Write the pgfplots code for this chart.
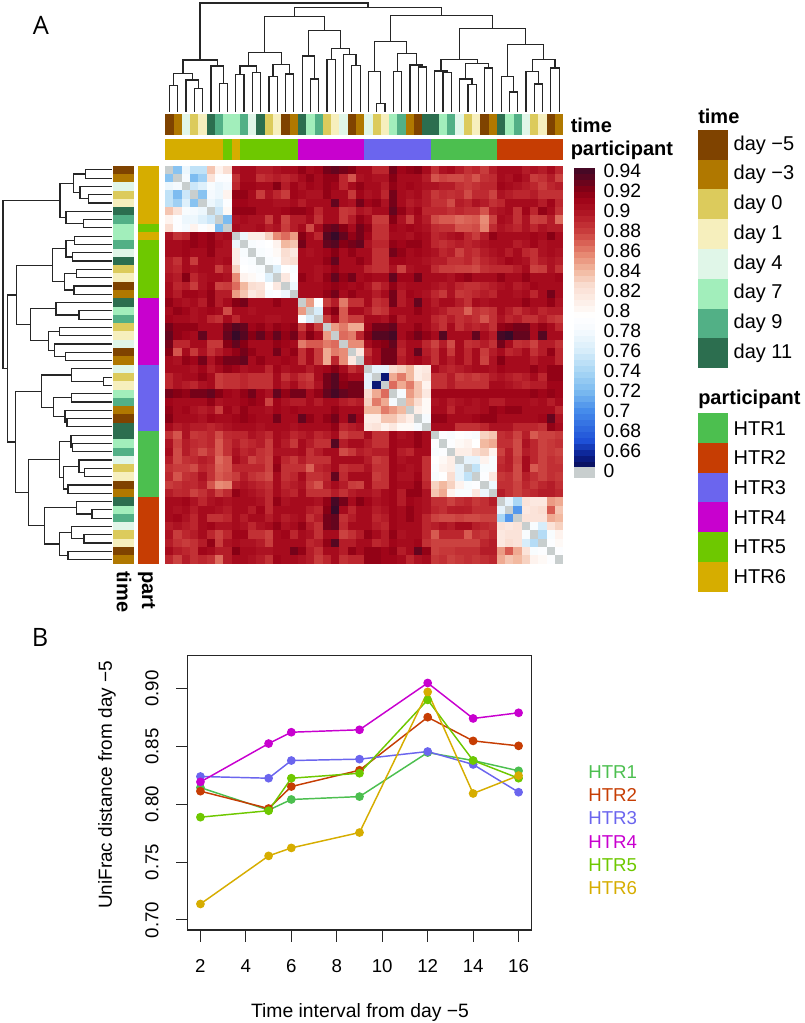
\documentclass[border=0pt]{standalone}
\usepackage{fontspec}
\setmainfont{Liberation Sans}
\newfontfamily\panelfont{Open Sans}
\usepackage{pgfplots}
\usepackage{pgfplotstable}
\pgfplotsset{compat=1.18}

% pixel of the reference -> picture coordinate
\newcommand\pxX[1]{#1*0.75pt}
\newcommand\pxY[1]{-#1*0.75pt}
\newcommand\fsz[1]{\fontsize{#1}{#1}\selectfont}

% colour cells used as scatter marks
\pgfdeclareplotmark{hcell}{\pgfpathrectangle{\pgfpoint{-3.2pt}{-3.2pt}}{\pgfpoint{6.4pt}{6.4pt}}\pgfusepathqfill}
\pgfdeclareplotmark{tcell}{\pgfpathrectangle{\pgfpoint{-3.14pt}{-7.78pt}}{\pgfpoint{6.28pt}{15.56pt}}\pgfusepathqfill}
\pgfdeclareplotmark{lcell}{\pgfpathrectangle{\pgfpoint{-7.88pt}{-3.14pt}}{\pgfpoint{15.76pt}{6.28pt}}\pgfusepathqfill}
\pgfdeclareplotmark{swatch}{\pgfpathrectangle{\pgfpoint{-11.2pt}{-11.25pt}}{\pgfpoint{22.4pt}{22.5pt}}\pgfusepathqfill}
\pgfdeclareplotmark{keycell}{\pgfpathrectangle{\pgfpoint{-7.76pt}{-2.4pt}}{\pgfpoint{15.52pt}{4.8pt}}\pgfusepathqfill}

\definecolor{keygrey}{RGB}{200,206,206}
\definecolor{htrA}{RGB}{76,191,79}
\definecolor{htrB}{RGB}{198,61,3}
\definecolor{htrC}{RGB}{107,101,238}
\definecolor{htrD}{RGB}{200,0,207}
\definecolor{htrE}{RGB}{110,200,0}
\definecolor{htrF}{RGB}{214,173,0}

\pgfplotsset{
  colormap={heat}{
    rgb255(630pt)=(200,206,206) rgb255(643.9pt)=(200,206,206)
    rgb255(644pt)=(10,15,90) rgb255(655pt)=(10,30,140) rgb255(670pt)=(30,80,215)
    rgb255(700pt)=(70,140,235) rgb255(720pt)=(125,188,240) rgb255(740pt)=(170,215,245)
    rgb255(760pt)=(215,237,250) rgb255(780pt)=(245,250,254) rgb255(795pt)=(255,255,255)
    rgb255(805pt)=(254,243,238) rgb255(825pt)=(250,222,210) rgb255(840pt)=(242,185,160)
    rgb255(855pt)=(232,140,118) rgb255(870pt)=(215,90,80) rgb255(880pt)=(200,60,60)
    rgb255(890pt)=(188,38,46) rgb255(900pt)=(172,18,34) rgb255(910pt)=(160,5,25)
    rgb255(920pt)=(135,0,20) rgb255(930pt)=(100,5,30) rgb255(945pt)=(55,10,40)},
  colormap={times}{rgb255=(127,67,0) rgb255=(176,120,0) rgb255=(220,203,92) rgb255=(246,239,189)
    rgb255=(224,246,232) rgb255=(162,238,187) rgb255=(82,176,134) rgb255=(44,110,79)},
  colormap={parts}{rgb255=(76,191,79) rgb255=(198,61,3) rgb255=(107,101,238)
    rgb255=(200,0,207) rgb255=(110,200,0) rgb255=(214,173,0)},
  hmblock/.style={scale only axis, anchor=north west, hide axis},
  hmcells/.style={scatter, only marks, point meta=explicit},
  hmtree/.style={no markers, color=black!85, line width=0.9pt, line cap=rect, point meta=none},
  hmseries/.style={mark=*, mark size=2.7pt, line width=1.1pt, color=#1, mark options={solid, fill=#1}},
}

% sample order along both sides: time code (0 = day -5 ... 7 = day 11), participant code (0 = HTR1 ...)
\pgfplotstableread{
t p
0 5
1 5
4 5
2 5
3 5
7 5
6 5
5 4
5 5
6 4
4 4
7 4
2 4
3 4
0 4
1 4
7 3
5 3
6 3
2 3
3 3
4 3
0 3
1 3
4 2
2 2
3 2
5 2
6 2
1 2
0 2
7 2
7 0
5 0
6 0
4 0
2 0
3 0
0 0
1 0
7 1
5 1
6 1
4 1
2 1
3 1
0 1
1 1
}\sampletab

% dendrogram: leaf position, height in px from the top; nan breaks the line
\pgfplotstableread[row sep=\\]{
p h\\
0 111.7\\ 0 85.7\\ 1 85.7\\ 1 111.7\\ nan nan\\
3 111.7\\ 3 88.3\\ 4 88.3\\ 4 111.7\\ nan nan\\
2 111.7\\ 2 80\\ 3.5 80\\ 3.5 88.3\\ nan nan\\
0.5 85.7\\ 0.5 73.7\\ 2.75 73.7\\ 2.75 80\\ nan nan\\
6 111.7\\ 6 83.7\\ 7 83.7\\ 7 111.7\\ nan nan\\
5 111.7\\ 5 66\\ 6.5 66\\ 6.5 83.7\\ nan nan\\
1.625 73.7\\ 1.625 60\\ 5.75 60\\ 5.75 66\\ nan nan\\
8 111.7\\ 8 74.7\\ 9 74.7\\ 9 111.7\\ nan nan\\
10 111.7\\ 10 72.3\\ 11 72.3\\ 11 111.7\\ nan nan\\
8.5 74.7\\ 8.5 66\\ 10.5 66\\ 10.5 72.3\\ nan nan\\
12 111.7\\ 12 76.3\\ 13 76.3\\ 13 111.7\\ nan nan\\
14 111.7\\ 14 74\\ 15 74\\ 15 111.7\\ nan nan\\
12.5 76.3\\ 12.5 64.3\\ 14.5 64.3\\ 14.5 74\\ nan nan\\
9.5 66\\ 9.5 52.7\\ 13.5 52.7\\ 13.5 64.3\\ nan nan\\
17 111.7\\ 17 79\\ 18 79\\ 18 111.7\\ nan nan\\
16 111.7\\ 16 56\\ 17.5 56\\ 17.5 79\\ nan nan\\
19 111.7\\ 19 59.7\\ 20 59.7\\ 20 111.7\\ nan nan\\
22 111.7\\ 22 65.7\\ 23 65.7\\ 23 111.7\\ nan nan\\
21 111.7\\ 21 54.3\\ 22.5 54.3\\ 22.5 65.7\\ nan nan\\
19.5 59.7\\ 19.5 48.7\\ 21.75 48.7\\ 21.75 54.3\\ nan nan\\
16.75 56\\ 16.75 30.3\\ 20.625 30.3\\ 20.625 48.7\\ nan nan\\
11.5 52.7\\ 11.5 16.7\\ 18.69 16.7\\ 18.69 30.3\\ nan nan\\
25 111.7\\ 25 103.7\\ 26 103.7\\ 26 111.7\\ nan nan\\
24 111.7\\ 24 71.3\\ 25.5 71.3\\ 25.5 103.7\\ nan nan\\
27 111.7\\ 27 71.7\\ 28 71.7\\ 28 111.7\\ nan nan\\
30 111.7\\ 30 67\\ 31 67\\ 31 111.7\\ nan nan\\
29 111.7\\ 29 65\\ 30.5 65\\ 30.5 67\\ nan nan\\
27.5 71.7\\ 27.5 53.3\\ 29.75 53.3\\ 29.75 65\\ nan nan\\
24.75 71.3\\ 24.75 41.7\\ 28.625 41.7\\ 28.625 53.3\\ nan nan\\
33 111.7\\ 33 72.7\\ 34 72.7\\ 34 111.7\\ nan nan\\
32 111.7\\ 32 71\\ 33.5 71\\ 33.5 72.7\\ nan nan\\
36 111.7\\ 36 84.7\\ 37 84.7\\ 37 111.7\\ nan nan\\
35 111.7\\ 35 79\\ 36.5 79\\ 36.5 84.7\\ nan nan\\
38 111.7\\ 38 68\\ 39 68\\ 39 111.7\\ nan nan\\
35.75 79\\ 35.75 63.3\\ 38.5 63.3\\ 38.5 68\\ nan nan\\
32.75 71\\ 32.75 59.3\\ 37.125 59.3\\ 37.125 63.3\\ nan nan\\
41 111.7\\ 41 92\\ 42 92\\ 42 111.7\\ nan nan\\
40 111.7\\ 40 76.7\\ 41.5 76.7\\ 41.5 92\\ nan nan\\
44 111.7\\ 44 84\\ 45 84\\ 45 111.7\\ nan nan\\
43 111.7\\ 43 71.3\\ 44.5 71.3\\ 44.5 84\\ nan nan\\
46 111.7\\ 46 68\\ 47 68\\ 47 111.7\\ nan nan\\
43.75 71.3\\ 43.75 59.7\\ 46.5 59.7\\ 46.5 68\\ nan nan\\
40.75 76.7\\ 40.75 44.3\\ 45.125 44.3\\ 45.125 59.7\\ nan nan\\
34.94 59.3\\ 34.94 28.3\\ 42.94 28.3\\ 42.94 44.3\\ nan nan\\
26.69 41.7\\ 26.69 15.3\\ 38.94 15.3\\ 38.94 28.3\\ nan nan\\
15.09 16.7\\ 15.09 7.3\\ 32.81 7.3\\ 32.81 15.3\\ nan nan\\
3.69 60\\ 3.69 3\\ 23.95 3\\ 23.95 7.3\\
}\dendro

% UniFrac distance x 1000, upper triangle (the matrix is symmetric), 0 on the diagonal
\pgfplotstableread[header=false]{
0 725 775 750 750 835 805 825 900 905 905 895 895 900 905 905 915 905 910 925 930 925 920 905 905 890 890 925 910 915 920 905 885 900 905 895 885 890 880 895 905 905 905 895 900 895 905 890
nan 0 780 720 735 820 790 790 885 905 905 885 890 895 890 895 905 915 905 915 915 890 872 900 905 900 900 920 905 905 905 895 872 878 875 875 880 872 885 888 905 900 910 900 880 885 895 878
nan nan 0 755 765 785 775 780 890 910 910 905 905 920 895 910 900 910 905 915 910 890 905 915 905 905 895 915 905 910 905 900 900 895 895 885 880 885 890 890 910 905 900 895 890 880 890 895
nan nan nan 0 725 780 775 805 915 915 905 880 900 890 880 910 905 900 900 915 905 905 882 910 900 905 890 925 905 900 905 895 882 888 885 888 875 888 888 878 900 895 890 890 895 885 885 885
nan nan nan nan 0 775 765 790 910 910 905 905 905 900 900 905 895 905 905 905 930 905 900 925 910 915 900 925 905 895 900 895 885 885 875 895 890 900 895 885 890 905 905 905 905 895 910 890
nan nan nan nan nan 0 755 800 915 915 915 905 905 905 910 915 915 910 890 905 905 882 885 900 895 905 905 930 915 900 910 890 890 890 885 890 885 885 872 895 900 905 885 910 890 915 905 885
nan nan nan nan nan nan 0 720 900 905 900 900 880 905 878 895 895 905 885 905 905 882 895 915 905 880 880 920 900 880 905 895 875 870 870 865 868 870 855 878 905 900 885 900 878 880 895 865
nan nan nan nan nan nan nan 0 905 900 900 905 895 900 880 895 905 875 905 925 930 920 905 925 915 885 885 910 905 910 905 900 888 885 885 872 872 875 858 888 900 895 890 900 890 900 895 895
nan nan nan nan nan nan nan nan 0 775 810 810 830 855 865 850 920 905 890 935 945 930 915 925 910 885 885 905 905 900 910 905 890 895 900 905 890 880 895 915 905 905 905 905 910 905 920 905
nan nan nan nan nan nan nan nan nan 0 785 790 795 805 840 835 925 905 905 930 935 920 925 930 900 890 890 915 910 915 915 905 890 885 890 895 890 895 900 905 905 905 895 900 910 900 905 905
nan nan nan nan nan nan nan nan nan nan 0 785 790 800 825 815 905 900 905 910 920 905 915 905 905 885 885 925 915 905 910 905 900 890 895 878 890 885 895 900 905 895 905 890 885 900 905 900
nan nan nan nan nan nan nan nan nan nan nan 0 785 790 820 825 905 905 905 915 930 905 905 915 905 885 885 910 910 905 905 900 895 895 885 885 890 880 890 895 900 910 905 900 885 895 900 895
nan nan nan nan nan nan nan nan nan nan nan nan 0 765 795 785 905 905 900 905 915 905 905 905 890 885 885 900 878 900 905 905 888 880 880 878 878 875 885 888 888 888 895 905 878 880 900 885
nan nan nan nan nan nan nan nan nan nan nan nan nan 0 815 790 915 905 900 915 930 915 925 905 910 905 905 930 910 910 925 905 905 905 900 910 915 905 905 905 915 905 905 915 905 905 905 910
nan nan nan nan nan nan nan nan nan nan nan nan nan nan 0 775 905 905 905 910 915 910 905 910 900 885 895 915 900 905 905 905 900 895 900 890 885 885 890 895 900 905 895 900 910 905 905 905
nan nan nan nan nan nan nan nan nan nan nan nan nan nan nan 0 905 905 905 915 925 905 915 905 905 895 905 925 895 910 905 900 890 882 900 882 885 890 895 890 905 905 900 905 890 905 925 905
nan nan nan nan nan nan nan nan nan nan nan nan nan nan nan nan 0 850 790 880 895 860 885 885 905 885 890 925 895 905 930 905 895 905 905 895 885 905 900 905 905 905 905 915 905 905 915 900
nan nan nan nan nan nan nan nan nan nan nan nan nan nan nan nan nan 0 760 905 920 870 905 905 895 880 885 905 905 905 915 905 900 895 885 885 868 885 880 885 905 895 885 895 900 890 895 895
nan nan nan nan nan nan nan nan nan nan nan nan nan nan nan nan nan nan 0 880 905 870 880 880 905 905 900 915 895 905 905 905 890 885 895 885 890 885 872 885 900 890 895 885 885 895 885 880
nan nan nan nan nan nan nan nan nan nan nan nan nan nan nan nan nan nan nan 0 850 860 845 845 910 925 925 930 905 905 915 905 895 885 905 885 895 890 895 885 915 920 925 925 905 915 905 890
nan nan nan nan nan nan nan nan nan nan nan nan nan nan nan nan nan nan nan nan 0 865 860 890 920 935 935 940 905 915 925 915 905 935 905 905 905 930 905 895 940 945 930 930 905 935 905 905
nan nan nan nan nan nan nan nan nan nan nan nan nan nan nan nan nan nan nan nan nan 0 855 855 905 915 920 930 895 905 905 890 878 895 875 905 885 888 895 885 925 905 885 888 878 895 895 885
nan nan nan nan nan nan nan nan nan nan nan nan nan nan nan nan nan nan nan nan nan nan 0 815 885 905 925 925 890 905 930 895 885 905 882 905 890 905 880 895 905 890 895 905 885 895 915 890
nan nan nan nan nan nan nan nan nan nan nan nan nan nan nan nan nan nan nan nan nan nan nan 0 895 905 925 925 895 905 910 900 885 905 895 905 890 905 878 900 920 905 905 905 895 905 905 890
nan nan nan nan nan nan nan nan nan nan nan nan nan nan nan nan nan nan nan nan nan nan nan nan 0 770 770 825 830 840 810 815 905 895 890 895 900 905 905 900 910 905 905 905 915 905 915 915
nan nan nan nan nan nan nan nan nan nan nan nan nan nan nan nan nan nan nan nan nan nan nan nan nan 0 650 845 860 840 810 820 885 885 895 880 885 880 885 895 900 895 890 895 905 890 915 915
nan nan nan nan nan nan nan nan nan nan nan nan nan nan nan nan nan nan nan nan nan nan nan nan nan nan 0 865 845 860 835 805 885 885 895 885 885 885 885 905 905 900 895 890 895 895 910 910
nan nan nan nan nan nan nan nan nan nan nan nan nan nan nan nan nan nan nan nan nan nan nan nan nan nan nan 0 780 850 835 815 910 910 910 910 910 910 910 910 910 910 910 910 915 910 915 910
nan nan nan nan nan nan nan nan nan nan nan nan nan nan nan nan nan nan nan nan nan nan nan nan nan nan nan nan 0 840 825 800 900 905 895 900 905 900 905 895 895 905 905 905 900 905 895 905
nan nan nan nan nan nan nan nan nan nan nan nan nan nan nan nan nan nan nan nan nan nan nan nan nan nan nan nan nan 0 810 800 905 905 890 905 900 900 905 915 910 915 915 905 905 905 905 890
nan nan nan nan nan nan nan nan nan nan nan nan nan nan nan nan nan nan nan nan nan nan nan nan nan nan nan nan nan nan 0 780 915 915 905 905 905 910 915 915 905 905 905 905 905 910 930 900
nan nan nan nan nan nan nan nan nan nan nan nan nan nan nan nan nan nan nan nan nan nan nan nan nan nan nan nan nan nan nan 0 905 905 905 885 885 885 890 900 900 900 890 890 890 885 915 905
nan nan nan nan nan nan nan nan nan nan nan nan nan nan nan nan nan nan nan nan nan nan nan nan nan nan nan nan nan nan nan nan 0 790 785 795 790 785 830 835 886 890 878 894 870 878 878 882
nan nan nan nan nan nan nan nan nan nan nan nan nan nan nan nan nan nan nan nan nan nan nan nan nan nan nan nan nan nan nan nan nan 0 790 800 805 795 840 845 886 886 875 900 890 878 882 886
nan nan nan nan nan nan nan nan nan nan nan nan nan nan nan nan nan nan nan nan nan nan nan nan nan nan nan nan nan nan nan nan nan nan 0 810 810 825 830 805 878 894 875 895 890 878 882 878
nan nan nan nan nan nan nan nan nan nan nan nan nan nan nan nan nan nan nan nan nan nan nan nan nan nan nan nan nan nan nan nan nan nan nan 0 770 770 805 785 886 895 878 905 890 878 886 882
nan nan nan nan nan nan nan nan nan nan nan nan nan nan nan nan nan nan nan nan nan nan nan nan nan nan nan nan nan nan nan nan nan nan nan nan 0 750 785 785 890 894 875 905 870 878 886 886
nan nan nan nan nan nan nan nan nan nan nan nan nan nan nan nan nan nan nan nan nan nan nan nan nan nan nan nan nan nan nan nan nan nan nan nan nan 0 790 815 882 886 875 894 886 878 886 882
nan nan nan nan nan nan nan nan nan nan nan nan nan nan nan nan nan nan nan nan nan nan nan nan nan nan nan nan nan nan nan nan nan nan nan nan nan nan 0 775 886 886 878 890 882 890 895 886
nan nan nan nan nan nan nan nan nan nan nan nan nan nan nan nan nan nan nan nan nan nan nan nan nan nan nan nan nan nan nan nan nan nan nan nan nan nan nan 0 895 886 878 886 890 895 895 890
nan nan nan nan nan nan nan nan nan nan nan nan nan nan nan nan nan nan nan nan nan nan nan nan nan nan nan nan nan nan nan nan nan nan nan nan nan nan nan nan 0 770 740 820 815 815 850 845
nan nan nan nan nan nan nan nan nan nan nan nan nan nan nan nan nan nan nan nan nan nan nan nan nan nan nan nan nan nan nan nan nan nan nan nan nan nan nan nan nan 0 705 815 820 825 870 835
nan nan nan nan nan nan nan nan nan nan nan nan nan nan nan nan nan nan nan nan nan nan nan nan nan nan nan nan nan nan nan nan nan nan nan nan nan nan nan nan nan nan 0 820 820 820 845 840
nan nan nan nan nan nan nan nan nan nan nan nan nan nan nan nan nan nan nan nan nan nan nan nan nan nan nan nan nan nan nan nan nan nan nan nan nan nan nan nan nan nan nan 0 785 760 820 830
nan nan nan nan nan nan nan nan nan nan nan nan nan nan nan nan nan nan nan nan nan nan nan nan nan nan nan nan nan nan nan nan nan nan nan nan nan nan nan nan nan nan nan nan 0 745 785 805
nan nan nan nan nan nan nan nan nan nan nan nan nan nan nan nan nan nan nan nan nan nan nan nan nan nan nan nan nan nan nan nan nan nan nan nan nan nan nan nan nan nan nan nan nan 0 790 800
nan nan nan nan nan nan nan nan nan nan nan nan nan nan nan nan nan nan nan nan nan nan nan nan nan nan nan nan nan nan nan nan nan nan nan nan nan nan nan nan nan nan nan nan nan nan 0 790
nan nan nan nan nan nan nan nan nan nan nan nan nan nan nan nan nan nan nan nan nan nan nan nan nan nan nan nan nan nan nan nan nan nan nan nan nan nan nan nan nan nan nan nan nan nan nan 0
}\unifrac

\begin{document}
\begin{tikzpicture}
\path[use as bounding box] (0,0) rectangle (603.75pt,-767.25pt);

% panel A: top dendrogram
\begin{axis}[hmblock, at={(\pxX{165.3},\pxY{0})}, width=298.5pt, height=83.78pt,
    xmin=-0.5, xmax=47.5, ymin=0, ymax=111.7, y dir=reverse, clip=false, unbounded coords=jump]
  \addplot[hmtree] table[x=p, y=h] {\dendro};
\end{axis}
% left dendrogram, same tree
\begin{axis}[hmblock, at={(\pxX{0},\pxY{165.7})}, width=83.78pt, height=298.5pt,
    ymin=-0.5, ymax=47.5, xmin=0, xmax=111.7, y dir=reverse, clip=false, unbounded coords=jump]
  \addplot[hmtree] table[x=h, y=p] {\dendro};
\end{axis}

% annotation bars
\begin{axis}[hmblock, at={(\pxX{165.3},\pxY{114})}, width=298.5pt, height=15.5pt, xmin=-0.5, xmax=47.5, ymin=-1, ymax=1,
    colormap name=times, point meta min=0, point meta max=7]
  \addplot[hmcells, mark=tcell] table[x expr=\coordindex, y expr=0, meta=t] {\sampletab};
\end{axis}
\begin{axis}[hmblock, at={(\pxX{165.3},\pxY{139})}, width=298.5pt, height=15.5pt, xmin=-0.5, xmax=47.5, ymin=-1, ymax=1,
    colormap name=parts, point meta min=0, point meta max=5]
  \addplot[hmcells, mark=tcell] table[x expr=\coordindex, y expr=0, meta=p] {\sampletab};
\end{axis}
\begin{axis}[hmblock, at={(\pxX{113.3},\pxY{165.7})}, width=15.75pt, height=298.5pt, ymin=-0.5, ymax=47.5, y dir=reverse, xmin=-1, xmax=1,
    colormap name=times, point meta min=0, point meta max=7]
  \addplot[hmcells, mark=lcell] table[y expr=\coordindex, x expr=0, meta=t] {\sampletab};
\end{axis}
\begin{axis}[hmblock, at={(\pxX{138.3},\pxY{165.7})}, width=15.75pt, height=298.5pt, ymin=-0.5, ymax=47.5, y dir=reverse, xmin=-1, xmax=1,
    colormap name=parts, point meta min=0, point meta max=5]
  \addplot[hmcells, mark=lcell] table[y expr=\coordindex, x expr=0, meta=p] {\sampletab};
\end{axis}

% heatmap: each column of the table, plotted and mirrored
\begin{axis}[hmblock, at={(\pxX{165.3},\pxY{165.7})}, width=298.5pt, height=298.5pt,
    xmin=-0.5, xmax=47.5, ymin=-0.5, ymax=47.5, y dir=reverse,
    colormap name=heat, point meta min=630, point meta max=945]
  \pgfplotsinvokeforeach{0,...,47}{
    \addplot[hmcells, mark=hcell, skip coords between index={\numexpr#1+1\relax}{48}]
      table[x expr=#1, y expr=\coordindex, meta index=#1] {\unifrac};
    \addplot[hmcells, mark=hcell, skip coords between index={\numexpr#1+1\relax}{48}]
      table[x expr=\coordindex, y expr=#1, meta index=#1] {\unifrac};
  }
\end{axis}

% colour key
\begin{axis}[scale only axis, anchor=north west, at={(\pxX{574},\pxY{165.7})}, width=15.5pt, height=233.25pt,
    xmin=-1, xmax=1, ymin=634.3, ymax=945.3,
    colormap name=heat, point meta min=630, point meta max=945,
    axis line style={draw=none}, tick style={draw=none}, xtick=\empty,
    ytick={640,660,...,940}, yticklabel pos=right,
    yticklabels={0,0.66,0.68,0.7,0.72,0.74,0.76,0.78,0.8,0.82,0.84,0.86,0.88,0.9,0.92,0.94},
    yticklabel style={anchor=west, font=\fsz{14.5}, inner sep=0pt, xshift=6.5pt}]
  \addplot[scatter, only marks, mark=keycell, point meta=y] table[x expr=0, y index=0, header=false, row sep=\\] {
    646\\652\\658\\664\\670\\676\\682\\688\\694\\700\\706\\712\\718\\724\\730\\736\\742\\748\\754\\760\\766\\772\\778\\784\\790\\796\\802\\808\\814\\820\\826\\832\\838\\844\\850\\856\\862\\868\\874\\880\\886\\892\\898\\904\\910\\916\\922\\928\\934\\940\\946\\
  };
  \addplot[only marks, mark=keycell, mark options={draw=keygrey, fill=keygrey}] coordinates {(0,636.7) (0,641)};
\end{axis}

% legends
\begin{axis}[scale only axis, anchor=north west, at={(\pxX{698},\pxY{130})}, width=22.3pt, height=178.7pt,
    xmin=-1, xmax=1, ymin=-0.5, ymax=7.5, y dir=reverse,
    colormap name=times, point meta min=0, point meta max=7,
    axis line style={draw=none}, tick style={draw=none}, xtick=\empty,
    ytick={0,...,7}, yticklabel pos=right,
    yticklabels={day −5,day −3,day 0,day 1,day 4,day 7,day 9,day 11},
    yticklabel style={anchor=west, font=\fsz{15}, inner sep=0pt, xshift=4.25pt}]
  \addplot[hmcells, mark=swatch] table[x expr=0, y expr=\coordindex, meta index=0, header=false, row sep=\\] {0\\1\\2\\3\\4\\5\\6\\7\\};
\end{axis}
\begin{axis}[scale only axis, anchor=north west, at={(\pxX{698},\pxY{413.3})}, width=22.3pt, height=133.8pt,
    xmin=-1, xmax=1, ymin=-0.5, ymax=5.5, y dir=reverse,
    colormap name=parts, point meta min=0, point meta max=5,
    axis line style={draw=none}, tick style={draw=none}, xtick=\empty,
    ytick={0,...,5}, yticklabel pos=right,
    yticklabels={HTR1,HTR2,HTR3,HTR4,HTR5,HTR6},
    yticklabel style={anchor=west, font=\fsz{15}, inner sep=0pt, xshift=4.25pt}]
  \addplot[hmcells, mark=swatch] table[x expr=0, y expr=\coordindex, meta index=0, header=false, row sep=\\] {0\\1\\2\\3\\4\\5\\};
\end{axis}

% panel B
\begin{axis}[scale only axis, anchor=north west, at={(\pxX{187.7},\pxY{655.7})}, width=257.7pt, height=205.7pt,
    xmin=1.44, xmax=16.56, ymin=0.6913, ymax=0.9286,
    axis line style={line width=0.85pt, black!85}, tick style={line width=0.85pt, black!85},
    tick align=outside, major tick length=8.7pt,
    xtick pos=lower, ytick pos=left,
    xtick={2,4,...,16}, ytick={0.70,0.75,...,0.90},
    /pgf/number format/assume math mode=true,
    yticklabel style={/pgf/number format/fixed, /pgf/number format/fixed zerofill, /pgf/number format/precision=2,
      rotate=90, anchor=south, inner sep=0pt, yshift=13pt},
    xticklabel style={anchor=north, inner sep=0pt, yshift=-13.5pt},
    tick label style={font=\fsz{14}}, scaled y ticks=false, clip=false]
  \addplot[hmseries=htrA] coordinates {(2,0.8145) (5,0.7950) (6,0.8042) (9,0.8067) (12,0.8448) (14,0.8379) (16,0.8290)};
  \addplot[hmseries=htrB] coordinates {(2,0.8114) (5,0.7964) (6,0.8154) (9,0.8295) (12,0.8754) (14,0.8549) (16,0.8506)};
  \addplot[hmseries=htrC] coordinates {(2,0.8241) (5,0.8226) (6,0.8379) (9,0.8391) (12,0.8457) (14,0.8345) (16,0.8105)};
  \addplot[hmseries=htrD] coordinates {(2,0.8194) (5,0.8526) (6,0.8624) (9,0.8645) (12,0.9050) (14,0.8743) (16,0.8792)};
  \addplot[hmseries=htrE] coordinates {(2,0.7889) (5,0.7945) (6,0.8226) (9,0.8269) (12,0.8904) (14,0.8379) (16,0.8226)};
  \addplot[hmseries=htrF] coordinates {(2,0.7138) (5,0.7554) (6,0.7623) (9,0.7756) (12,0.8973) (14,0.8094) (16,0.8249)};
\end{axis}

% text
\node[font=\panelfont\fsz{19}, anchor=center] at (\pxX{41},\pxY{25}) {A};
\node[font=\panelfont\fsz{19}, anchor=center] at (\pxX{40},\pxY{637}) {B};
\node[font=\bfseries\fsz{15}, anchor=west, inner sep=0pt] at (\pxX{570.5},\pxY{125}) {time};
\node[font=\bfseries\fsz{15}, anchor=west, inner sep=0pt] at (\pxX{570.5},\pxY{150}) {participant};
\node[font=\bfseries\fsz{15}, anchor=west, inner sep=0pt, rotate=-90] at (\pxX{124},\pxY{571}) {time};
\node[font=\bfseries\fsz{15}, anchor=west, inner sep=0pt, rotate=-90] at (\pxX{146.5},\pxY{571}) {part};
\node[font=\bfseries\fsz{15}, anchor=west, inner sep=0pt] at (\pxX{698},\pxY{116}) {time};
\node[font=\bfseries\fsz{15}, anchor=west, inner sep=0pt] at (\pxX{698},\pxY{399}) {participant};
\node[font=\fsz{14.5}, anchor=center, inner sep=0pt] at (\pxX{360},\pxY{1012}) {Time interval from day −5};
\node[font=\fsz{14.2}, anchor=center, inner sep=0pt, rotate=90] at (\pxX{107},\pxY{785}) {UniFrac distance from day −5};
\node[font=\fsz{14}, text=htrA, anchor=west, inner sep=0pt] at (\pxX{588},\pxY{771.7}) {HTR1};
\node[font=\fsz{14}, text=htrB, anchor=west, inner sep=0pt] at (\pxX{588},\pxY{795}) {HTR2};
\node[font=\fsz{14}, text=htrC, anchor=west, inner sep=0pt] at (\pxX{588},\pxY{818.3}) {HTR3};
\node[font=\fsz{14}, text=htrD, anchor=west, inner sep=0pt] at (\pxX{588},\pxY{841.7}) {HTR4};
\node[font=\fsz{14}, text=htrE, anchor=west, inner sep=0pt] at (\pxX{588},\pxY{865}) {HTR5};
\node[font=\fsz{14}, text=htrF, anchor=west, inner sep=0pt] at (\pxX{588},\pxY{888.3}) {HTR6};
\end{tikzpicture}
\end{document}
